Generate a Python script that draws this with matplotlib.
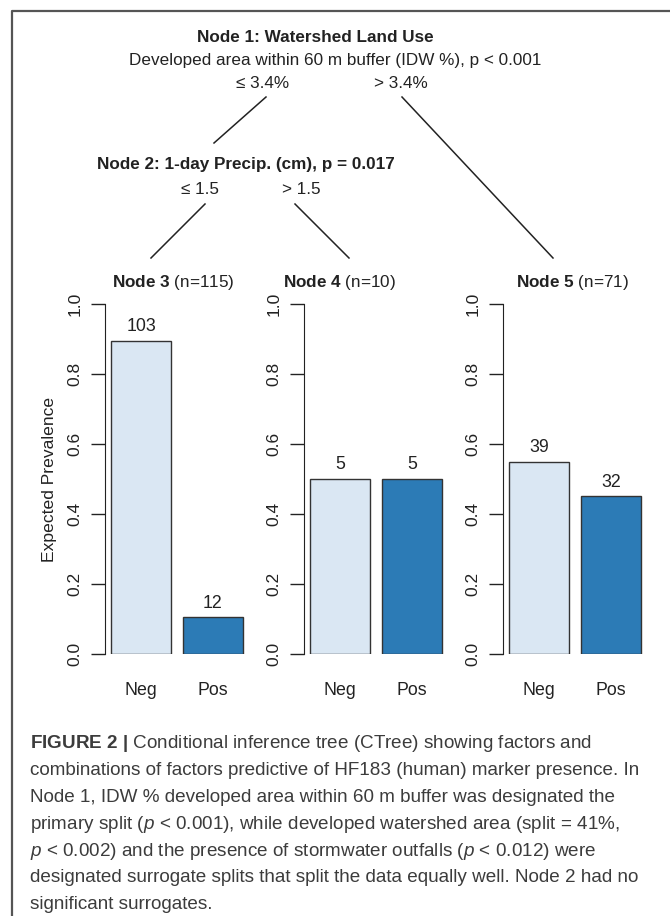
import matplotlib
matplotlib.use('Agg')
import matplotlib.pyplot as plt
import numpy as np

plt.rcParams['font.family'] = ['Liberation Sans', 'DejaVu Sans']
plt.rcParams['mathtext.fontset'] = 'custom'
plt.rcParams['mathtext.rm'] = 'Liberation Sans'
plt.rcParams['mathtext.it'] = 'Liberation Sans:italic'
plt.rcParams['mathtext.bf'] = 'Liberation Sans:bold'

# data
classes = ['Neg', 'Pos']
node_names = ['Node 3', 'Node 4', 'Node 5']
node_counts = [[103, 12], [5, 5], [39, 32]]
colors = ['#dae7f3', '#2c7bb6']
yticks = [0.0, 0.2, 0.4, 0.6, 0.8, 1.0]

W, H = 670, 916
fig = plt.figure(figsize=(W / 100, H / 100), dpi=100)

# overlay in pixel coords for tree and caption
ov = fig.add_axes([0, 0, 1, 1])
ov.set_xlim(0, W)
ov.set_ylim(H, 0)
ov.axis('off')

ink = '#222222'
fs = 12.3
# frame
ov.plot([12, 12, W], [H, 11, 11], color='#555555', lw=1.6, solid_capstyle='butt')

ov.text(315, 37, 'Node 1: Watershed Land Use', ha='center', va='center',
        fontsize=fs, fontweight='bold', color=ink)
ov.text(335, 60, 'Developed area within 60 m buffer (IDW %), p < 0.001',
        ha='center', va='center', fontsize=fs, color=ink)
ov.text(263, 83, '≤ 3.4%', ha='center', va='center', fontsize=fs, color=ink)
ov.text(401, 83, '> 3.4%', ha='center', va='center', fontsize=fs, color=ink)

ov.text(246, 165, 'Node 2: 1-day Precip. (cm), p = 0.017', ha='center', va='center',
        fontsize=fs, fontweight='bold', color=ink)
ov.text(200, 189, '≤ 1.5', ha='center', va='center', fontsize=fs, color=ink)
ov.text(301, 189, '> 1.5', ha='center', va='center', fontsize=fs, color=ink)

# tree edges
edges = [((266, 97), (214, 143)), ((402, 97), (553, 258)),
         ((205, 204), (151, 258)), ((295, 204), (349, 258))]
for (x0, y0), (x1, y1) in edges:
    ov.plot([x0, x1], [y0, y1], color=ink, lw=1.1)

# panels
spine_x = [105, 304, 503]
px_unit = 60.0
x_left, x_right = 0.4, 2.8
pos = np.array([1.0, 2.2])
y0_px, y1_px = 654, 304
for i, sx in enumerate(spine_x):
    ax = fig.add_axes([sx / W, (H - y0_px) / H, (x_right - x_left) * px_unit / W,
                       (y0_px - y1_px) / H])
    total = sum(node_counts[i])
    props = [c / total for c in node_counts[i]]
    ax.bar(pos, props, width=1.0, color=colors, edgecolor='#333333', linewidth=1.0)
    for p, v, c in zip(pos, props, node_counts[i]):
        ax.annotate(str(c), (p, v), xytext=(0, 4), textcoords='offset points',
                    ha='center', va='bottom', fontsize=12.8, color=ink)
    ax.set_xlim(x_left, x_right)
    ax.set_ylim(0, 1)
    ax.set_yticks(yticks)
    ax.set_yticklabels([f'{t:.1f}' for t in yticks], rotation=90, va='center',
                       fontsize=12.5, color=ink)
    ax.tick_params(axis='y', length=10, width=1.0, pad=6, color=ink)
    ax.set_xticks(pos)
    ax.set_xticklabels(classes, fontsize=12.8, color=ink)
    ax.tick_params(axis='x', length=0, pad=20)
    for s in ['top', 'right', 'bottom']:
        ax.spines[s].set_visible(False)
    ax.spines['left'].set_bounds(0, 1)
    ax.spines['left'].set_color(ink)
    ax.patch.set_alpha(0)
    title_x = [173, 339, 572][i]
    ov.text(title_x, 283, r'$\bf{' + node_names[i].replace(' ', r'\ ') + r'}$' +
            f' (n={total})', ha='center', va='center', fontsize=fs, color=ink)
    if i == 0:
        ax.set_ylabel('Expected Prevalence', fontsize=12.6, color=ink, labelpad=8)

# caption
cap_color = '#3c3c3c'
caption = [
    r'$\bf{FIGURE\ 2\ |}$ Conditional inference tree (CTree) showing factors and',
    'combinations of factors predictive of HF183 (human) marker presence. In',
    'Node 1, IDW % developed area within 60 m buffer was designated the',
    r'primary split ($\it{p}$ < 0.001), while developed watershed area (split = 41%,',
    r'$\it{p}$ < 0.002) and the presence of stormwater outfalls ($\it{p}$ < 0.012) were',
    'designated surrogate splits that split the data equally well. Node 2 had no',
    'significant surrogates.',
]
for k, line in enumerate(caption):
    ov.text(30, 744 + 26.8 * k, line, ha='left', va='center', fontsize=13.6,
            color=cap_color)

fig.savefig('out.png', dpi=100)
